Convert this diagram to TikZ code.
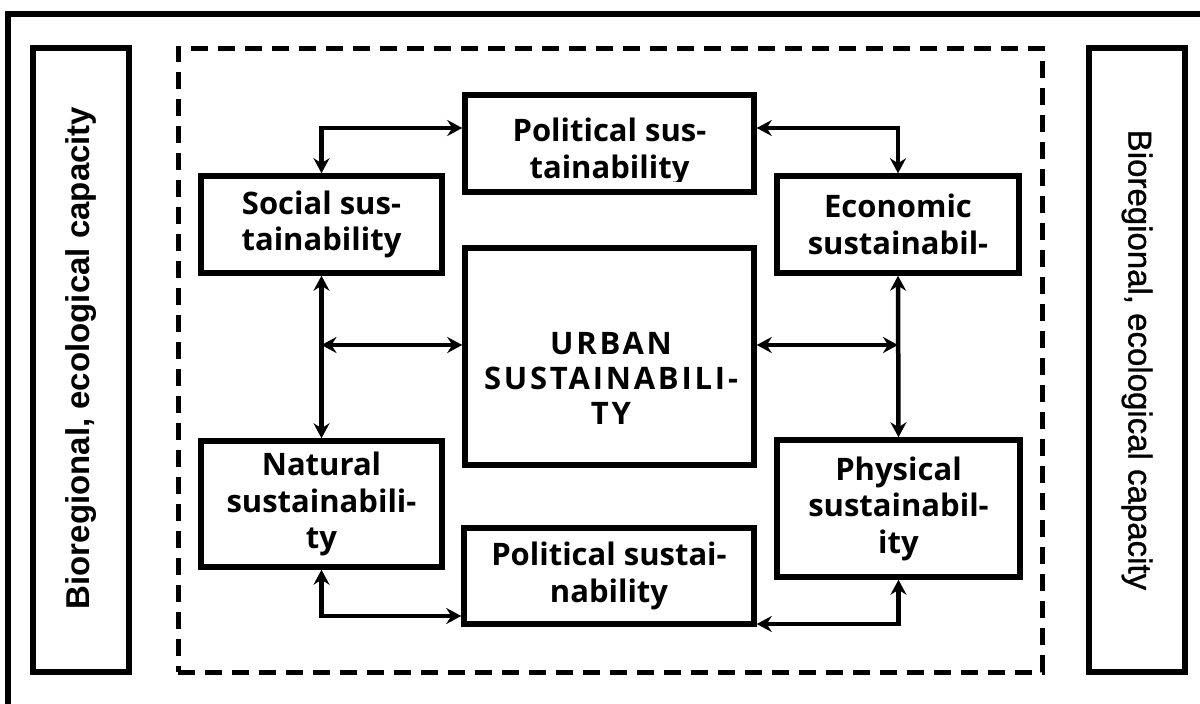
\documentclass[tikz,border=0pt]{standalone}
\usepackage{fontspec}
\setmainfont{Liberation Sans}
\newfontfamily\boxfont{Open Sans}
\usetikzlibrary{arrows.meta}
\begin{document}
\begin{tikzpicture}[x=1pt,y=-1pt,
  box/.style={draw,line width=5.5pt,rectangle,inner sep=0pt,align=center,
    font=\boxfont\bfseries\fontsize{31}{36.5}\selectfont},
  txt/.style={inner sep=0pt,align=center,font=\boxfont\bfseries\fontsize{31}{36.5}\selectfont},
  conn/.style={line width=4.5pt,{Stealth[length=15pt,width=16pt,inset=5pt]}-{Stealth[length=15pt,width=16pt,inset=5pt]}},
  side/.style={draw,line width=5.5pt,rectangle,inner sep=0pt},
  sidetxt/.style={inner sep=0pt,font=\fontsize{33}{40}\selectfont}
]
\useasboundingbox (0,0) rectangle (1200,704);
\fill[white] (0,0) rectangle (1200,704);
% outer frame (cropped)
\draw[line width=5.5pt] (8,720) -- (8,14) -- (1220,14);
% side boxes
\node[side,minimum width=96pt,minimum height=624pt] (lbox) at (81,360) {};
\node[side,minimum width=96pt,minimum height=624pt] (rbox) at (1137,360) {};
\node[sidetxt,font=\bfseries\fontsize{33}{40}\selectfont,rotate=90] (ltxt) at (81,358) {Bioregional, ecological capacity};
\node[sidetxt,font=\addfontfeature{FakeBold=1}\fontsize{33}{40}\selectfont,rotate=-90] (rtxt) at (1137,360) {Bioregional, ecological capacity};
% dashed frame
\node[draw,line width=5pt,dash pattern=on 17pt off 10pt,minimum width=864pt,minimum height=624pt,inner sep=0pt] (dash) at (610,360) {};
% boxes
\node[box,minimum width=289pt,minimum height=97pt] (pt) at (609.5,143.5) {};
\begin{scope}
\clip (465,95) rectangle (754,181);
\node[txt] (ptt) at (609.5,152) {Political sus-\\tainability};
\end{scope}
\node[box,minimum width=241pt,minimum height=97pt] (soc) at (321.5,224.5) {Social sus-\\tainability};
\node[box,minimum width=242pt,minimum height=97pt] (eco) at (898,224.5) {Economic\\sustainabil-};
\node[box,minimum width=289pt,minimum height=217pt] (urb) at (609.5,356.5) {};
\node[txt,font=\boxfont\bfseries\fontsize{31}{35}\selectfont\addfontfeature{LetterSpace=9}] (urbt) at (611,378) {URBAN\\SUSTAINABILI-\\TY};
\node[box,minimum width=241pt,minimum height=126pt] (nat) at (321.5,504) {Natural\\sustainabili-\\ty};
\node[box,minimum width=243pt,minimum height=137pt] (phy) at (898.5,508.5) {Physical\\sustainabil-\\ity};
\node[box,minimum width=290pt,minimum height=96pt] (pb) at (609,576) {Political sustai-\\nability};
% coordinates for free ends
\coordinate (ml) at (321.5,345);
\coordinate (mr) at (898,345);
% connectors
\draw[conn] ([yshift=15.5pt]pt.west) -| (soc.north);
\draw[conn] ([yshift=15.5pt]pt.east) -| (eco.north);
\draw[conn] (soc.south) -- (nat.north);
\draw[conn] (eco.south) -- (phy.north);
\draw[conn] (ml) -- ([yshift=11.5pt]urb.west);
\draw[conn] ([yshift=11.5pt]urb.east) -- (mr);
\draw[conn] (nat.south) |- ([yshift=-40pt]pb.west);
\draw[conn] (phy.south) |- ([yshift=-48pt]pb.east);
\end{tikzpicture}
\end{document}
